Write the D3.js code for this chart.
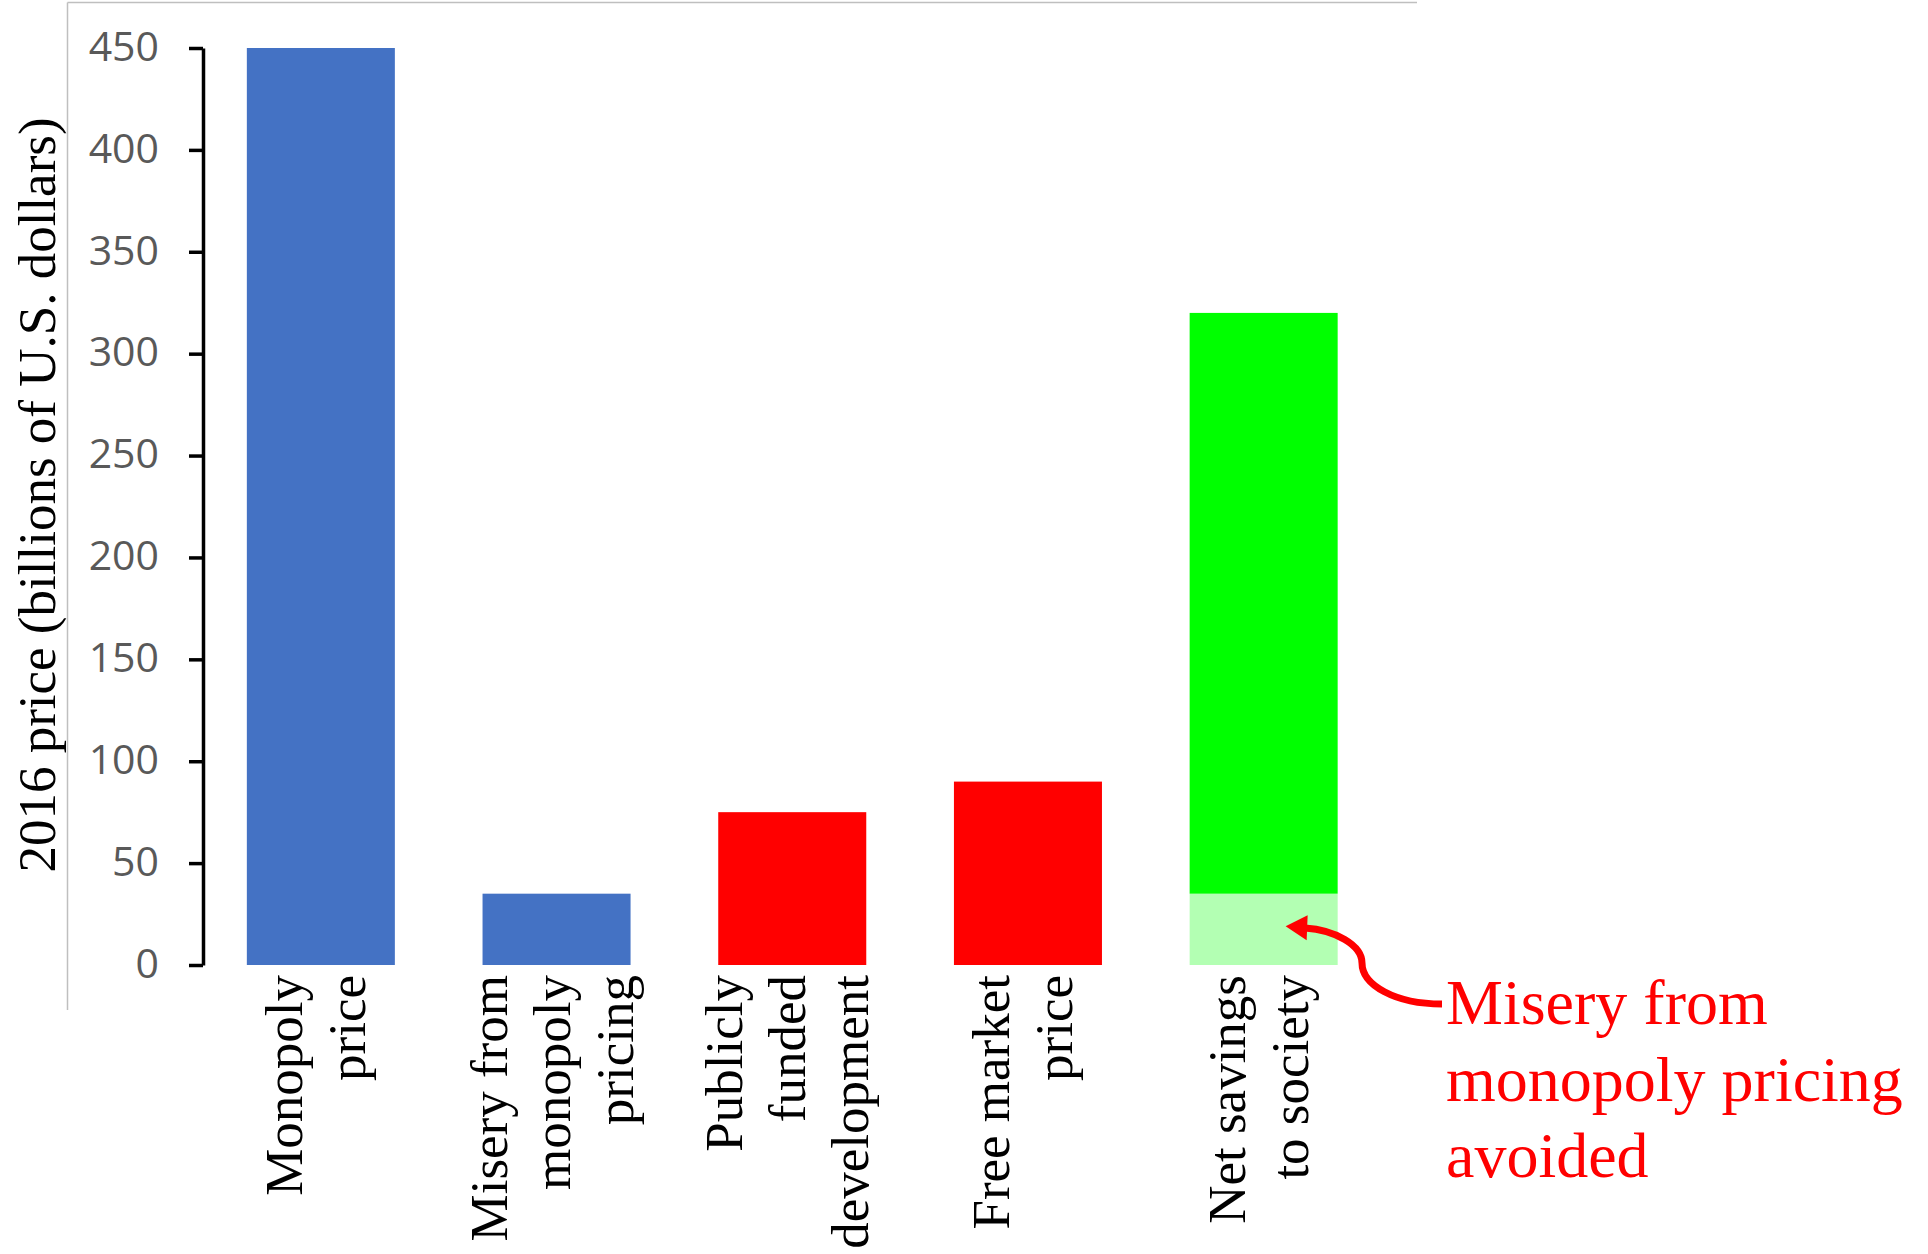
<!DOCTYPE html>
<html>
<head>
<meta charset="utf-8">
<script src="https://cdnjs.cloudflare.com/ajax/libs/d3/7.8.5/d3.min.js"></script>
<style>
  body { margin: 0; background: #fff; }
  .tick-label { font-family: "Open Sans", sans-serif; font-size: 41px; fill: #595959; }
  .serif { font-family: "Liberation Serif", "Times New Roman", serif; }
</style>
</head>
<body>
<div id="chart"></div>
<script>
// data
var categories = ["Monopoly price", "Misery from monopoly pricing", "Publicly funded development", "Free market price", "Net savings to society"];
var labelLines = [["Monopoly", "price"], ["Misery from", "monopoly", "pricing"], ["Publicly", "funded", "development"], ["Free market", "price"], ["Net savings", "to society"]];
var baseValues = [450, 35, 75, 90, 35];   // lower segment of each bar
var topValues  = [0, 0, 0, 0, 285];        // upper segment (only the last bar)
var baseColors = ["#4472c4", "#4472c4", "#ff0000", "#ff0000", "#b3ffb3"];
var topColors  = ["none", "none", "none", "none", "#00ff00"];
var yTicks = [0, 50, 100, 150, 200, 250, 300, 350, 400, 450];
var yTitle = "2016 price (billions of U.S. dollars)";
var noteLines = ["Misery from", "monopoly pricing", "avoided"];

var W = 1928, H = 1254;

var svg = d3.select("#chart").append("svg")
    .attr("width", W)
    .attr("height", H);

// chart-area frame (only top and left edges show)
svg.append("line").attr("x1", 67.5).attr("y1", 2.5).attr("x2", 1417).attr("y2", 2.5)
    .attr("stroke", "#bfbfbf").attr("stroke-width", 1.5);
svg.append("line").attr("x1", 67.5).attr("y1", 2.5).attr("x2", 67.5).attr("y2", 1010)
    .attr("stroke", "#bfbfbf").attr("stroke-width", 1.5);

var x = d3.scaleBand()
    .domain(categories)
    .range([203, 1381.5])
    .paddingInner(0.372)
    .paddingOuter(0.186);

var y = d3.scaleLinear()
    .domain([0, 450])
    .range([965, 48]);

// bars
svg.selectAll(".bar-base")
    .data(categories)
  .enter().append("rect")
    .attr("class", "bar-base")
    .attr("x", function(d) { return x(d); })
    .attr("width", x.bandwidth())
    .attr("y", function(d, i) { return y(baseValues[i]); })
    .attr("height", function(d, i) { return y(0) - y(baseValues[i]); })
    .attr("fill", function(d, i) { return baseColors[i]; });

svg.selectAll(".bar-top")
    .data(categories.filter(function(d, i) { return topValues[i] > 0; }))
  .enter().append("rect")
    .attr("class", "bar-top")
    .attr("x", function(d) { return x(d); })
    .attr("width", x.bandwidth())
    .attr("y", function(d) { var i = categories.indexOf(d); return y(baseValues[i] + topValues[i]); })
    .attr("height", function(d) { var i = categories.indexOf(d); return y(baseValues[i]) - y(baseValues[i] + topValues[i]); })
    .attr("fill", function(d) { return topColors[categories.indexOf(d)]; });

// y axis
var yAxis = svg.append("g")
    .attr("transform", "translate(203,0)")
    .call(d3.axisLeft(y).tickValues(yTicks).tickSize(14).tickPadding(30).tickSizeOuter(0));
yAxis.select(".domain").attr("stroke", "#000").attr("stroke-width", 3.5);
yAxis.selectAll(".tick line").attr("stroke", "#000").attr("stroke-width", 3.5);
yAxis.selectAll(".tick text")
    .attr("class", "tick-label")
    .attr("fill", null)
    .attr("font-size", null)
    .attr("font-family", null)
    .attr("dy", "0.3em");

// y title
svg.append("text")
    .attr("class", "serif")
    .attr("transform", "translate(55,495) rotate(-90)")
    .attr("text-anchor", "middle")
    .style("font-size", "53px")
    .attr("fill", "#000")
    .text(yTitle);

// category labels, rotated, right aligned just under the axis
var lineGap = 63;
categories.forEach(function(cat, i) {
  var lines = labelLines[i];
  var c = x(cat) + x.bandwidth() / 2 + 13;
  lines.forEach(function(txt, j) {
    var bx = c + (j - (lines.length - 1) / 2) * lineGap;
    svg.append("text")
      .attr("class", "serif")
      .attr("transform", "translate(" + bx + ",975) rotate(-90)")
      .attr("text-anchor", "end")
      .style("font-size", "53px")
      .attr("fill", "#000")
      .text(txt);
  });
});

// annotation
var noteX = 1446, noteY = 1024, noteGap = 76.5;
svg.selectAll(".note")
    .data(noteLines)
  .enter().append("text")
    .attr("class", "serif note")
    .attr("x", noteX)
    .attr("y", function(d, i) { return noteY + i * noteGap; })
    .style("font-size", "64px")
    .attr("fill", "#ff0000")
    .text(function(d) { return d; });

// curved arrow from the note to the light-green segment
var last = categories[4];
var tipX = x(last) + x.bandwidth() / 2 + 22, tipY = y(19);
var tailX = noteX - 4, tailY = noteY - 20;
var p = d3.path();
p.moveTo(tailX, tailY);
p.bezierCurveTo(tailX - 47, tailY, tailX - 80, tailY - 19, tailX - 80, tailY - 41);
p.bezierCurveTo(tailX - 80, tailY - 59, tailX - 107, tailY - 74, tailX - 137, tailY - 76);
svg.append("path")
    .attr("d", p.toString())
    .attr("fill", "none")
    .attr("stroke", "#ff0000")
    .attr("stroke-width", 7)
    .attr("stroke-linecap", "butt");

svg.append("path")
    .attr("d", "M" + tipX + "," + tipY +
               "L" + (tipX + 22) + "," + (tipY - 11) +
               "L" + (tipX + 21) + "," + (tipY + 14) + "Z")
    .attr("fill", "#ff0000");
</script>
</body>
</html>
